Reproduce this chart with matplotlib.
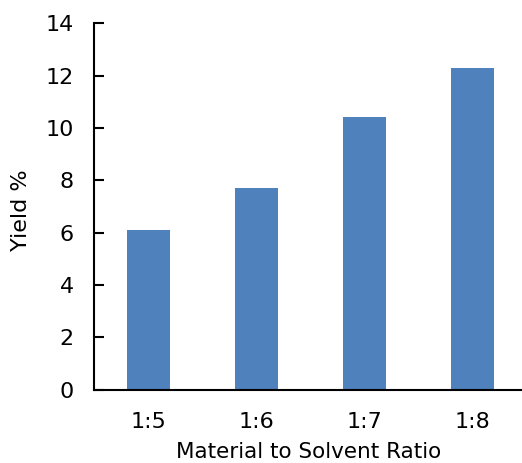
import matplotlib
matplotlib.use("Agg")
import matplotlib.pyplot as plt

ratios = ["1:5", "1:6", "1:7", "1:8"]
yields = [6.1, 7.7, 10.4, 12.3]

plt.rcParams['font.family'] = ['DejaVu Sans']

fig = plt.figure(figsize=(5.22, 4.63), dpi=100)
ax = fig.add_axes([0.181, 0.158, 0.819, 0.792])

x = range(len(ratios))
ax.bar(x, yields, width=0.4, color='#4F81BD')

ax.set_xlim(-0.5, 3.458)
ax.set_ylim(0, 14)
ax.set_yticks(range(0, 15, 2))
ax.set_xticks(list(x))
ax.set_xticklabels(ratios)

for side in ('top', 'right'):
    ax.spines[side].set_visible(False)
for side in ('left', 'bottom'):
    ax.spines[side].set_linewidth(1.5)
    ax.spines[side].set_color('black')

ax.tick_params(axis='y', direction='in', length=7, width=1.5, labelsize=16, pad=15)
ax.tick_params(axis='x', length=0, labelsize=16, pad=16)

ax.set_xlabel("Material to Solvent Ratio", fontsize=15.5, labelpad=7.5)
ax.set_ylabel("Yield %", fontsize=16)
ax.yaxis.set_label_coords(-0.149, 0.49)

fig.savefig("out.png", dpi=100)
